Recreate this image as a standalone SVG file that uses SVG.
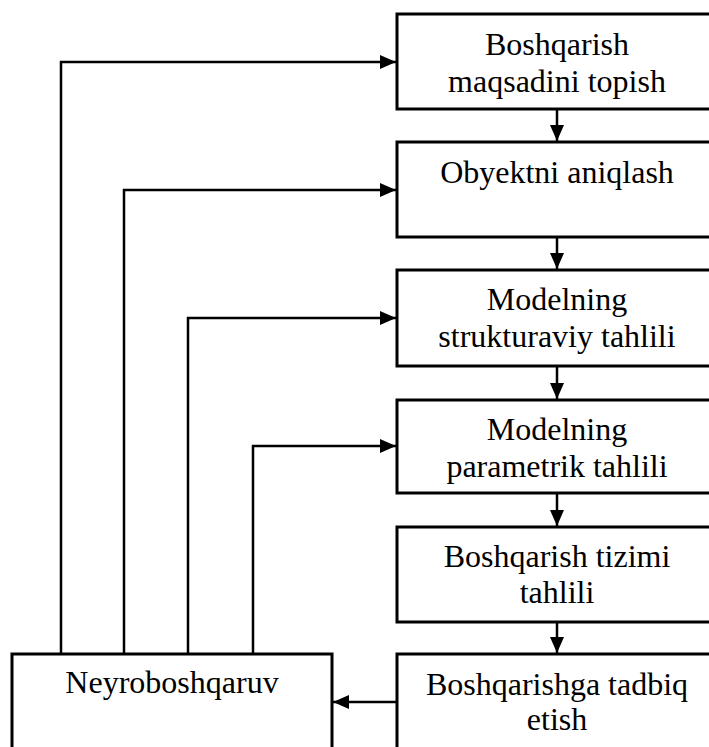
<svg xmlns="http://www.w3.org/2000/svg" width="709" height="747" viewBox="0 0 709 747">
<style>
.box{fill:#fff;stroke:#000;stroke-width:3}
.lbl{font-family:"Liberation Serif","Times New Roman",serif;font-size:32px;fill:#000;text-anchor:middle}
.con{fill:none;stroke:#000;stroke-width:2.5}
</style>
<defs>
<marker id="ah" markerUnits="userSpaceOnUse" markerWidth="16" markerHeight="14" refX="16" refY="7" orient="auto">
<path d="M0,0 L16,7 L0,14 Z" fill="#000"/>
</marker>
</defs>
<rect width="709" height="747" fill="#fff"/>
<g id="connectors">
<path class="con" d="M61,654 V62 H396" marker-end="url(#ah)"/>
<path class="con" d="M124,654 V190 H396" marker-end="url(#ah)"/>
<path class="con" d="M188,654 V318 H396" marker-end="url(#ah)"/>
<path class="con" d="M253,654 V446 H396" marker-end="url(#ah)"/>
<path class="con" d="M557,109 V141" marker-end="url(#ah)"/>
<path class="con" d="M557,237 V269" marker-end="url(#ah)"/>
<path class="con" d="M557,366 V399" marker-end="url(#ah)"/>
<path class="con" d="M557,493 V526" marker-end="url(#ah)"/>
<path class="con" d="M557,622 V653" marker-end="url(#ah)"/>
<path class="con" d="M397,702 H333" marker-end="url(#ah)"/>
</g>
<g id="n1"><rect class="box" x="397" y="14" width="330" height="95"/>
<text class="lbl" x="557" y="55">Boshqarish</text><text class="lbl" x="557" y="92">maqsadini topish</text></g>
<g id="n2"><rect class="box" x="397" y="142" width="330" height="95"/>
<text class="lbl" x="557" y="183">Obyektni aniqlash</text></g>
<g id="n3"><rect class="box" x="397" y="270" width="330" height="96"/>
<text class="lbl" x="557" y="310">Modelning</text><text class="lbl" x="557" y="347">strukturaviy tahlili</text></g>
<g id="n4"><rect class="box" x="397" y="400" width="330" height="93"/>
<text class="lbl" x="557" y="440">Modelning</text><text class="lbl" x="557" y="477">parametrik tahlili</text></g>
<g id="n5"><rect class="box" x="397" y="527" width="330" height="95"/>
<text class="lbl" x="557" y="567">Boshqarish tizimi</text><text class="lbl" x="557" y="603">tahlili</text></g>
<g id="n6"><rect class="box" x="397" y="654" width="330" height="110"/>
<text class="lbl" x="557" y="695">Boshqarishga tadbiq</text><text class="lbl" x="557" y="730">etish</text></g>
<g id="n7"><rect class="box" x="12" y="654" width="320" height="110"/>
<text class="lbl" x="172" y="693">Neyroboshqaruv</text></g>
</svg>
